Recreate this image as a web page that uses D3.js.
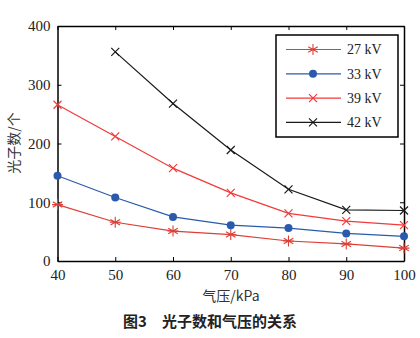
<!DOCTYPE html>
<html><head><meta charset="utf-8">
<script src="https://cdn.jsdelivr.net/npm/d3@7"></script>
<style>body{margin:0;background:#fff}svg{display:block}</style>
</head><body>
<svg id="c" width="420" height="338"></svg>
<script>
const pressures = [40, 50, 60, 70, 80, 90, 100];
const kv27 = [96, 66, 51, 45, 34, 29, 22];
const kv33 = [145, 108, 75, 61, 56, 47, 42];
const kv39 = [266, 212, 158, 116, 81, 68, 61];
const kv42 = [null, 356, 268, 189, 122, 87, 86];
const seriesNames = ["27 kV", "33 kV", "39 kV", "42 kV"];
const xTicks = [40, 50, 60, 70, 80, 90, 100];
const yTicks = [0, 100, 200, 300, 400];
const xLabel = "气压/kPa";
const yLabel = "光子数/个";
const caption = "图3\u2003光子数和气压的关系";

(function () {
const series = [
  {name: seriesNames[0], values: kv27, color: "#dc3f36", marker: "star"},
  {name: seriesNames[1], values: kv33, color: "#2a5aae", marker: "circle"},
  {name: seriesNames[2], values: kv39, color: "#f23a3a", marker: "x"},
  {name: seriesNames[3], values: kv42, color: "#1a1a1a", marker: "x"}
];

const svg = d3.select("#c");
const L = 57.5, R = 404, T = 26, B = 261;
const x = d3.scaleLinear().domain([40, 100]).range([L, R]);
const y = d3.scaleLinear().domain([0, 400]).range([B, T]);
const serif = "'Liberation Serif','Times New Roman',serif";
const cjk = "'Noto Sans CJK SC',sans-serif";

const ax = svg.append("g").attr("font-family", serif);
const gBottom = ax.append("g").attr("transform", `translate(0,${B})`)
  .call(d3.axisBottom(x).tickValues(xTicks).tickSizeInner(-4).tickSizeOuter(0).tickPadding(8));
const gLeft = ax.append("g").attr("transform", `translate(${L},0)`)
  .call(d3.axisLeft(y).tickValues(yTicks).tickSizeInner(-4).tickSizeOuter(0).tickPadding(7));
const gTop = ax.append("g").attr("transform", `translate(0,${T})`)
  .call(d3.axisTop(x).tickValues(xTicks).tickSizeInner(-4).tickSizeOuter(0).tickFormat(""));
const gRight = ax.append("g").attr("transform", `translate(${R},0)`)
  .call(d3.axisRight(y).tickValues(yTicks).tickSizeInner(-4).tickSizeOuter(0).tickFormat(""));
[gBottom, gLeft, gTop, gRight].forEach(g => {
  g.select(".domain").attr("stroke", "#000").attr("stroke-width", 1.5);
  g.selectAll(".tick line").attr("stroke", "#000").attr("stroke-width", 1);
  g.selectAll(".tick text").attr("font-size", 15).attr("fill", "#222").attr("font-family", serif);
});

const line = d3.line().defined(d => d.v != null).x(d => x(d.p)).y(d => y(d.v));
function drawMarker(g, type, cx, cy, color) {
  if (type === "circle") {
    g.append("circle").attr("cx", cx).attr("cy", cy).attr("r", 4).attr("fill", color);
  } else if (type === "x") {
    const s = 4;
    g.append("path").attr("d", `M${cx-s},${cy-s}L${cx+s},${cy+s}M${cx-s},${cy+s}L${cx+s},${cy-s}`)
      .attr("stroke", color).attr("stroke-width", 1.2).attr("fill", "none");
  } else {
    const s = 5.5;
    let d = "";
    for (let i = 0; i < 3; i++) {
      const a = Math.PI / 2 + i * Math.PI / 3;
      d += `M${cx - s*Math.cos(a)},${cy - s*Math.sin(a)}L${cx + s*Math.cos(a)},${cy + s*Math.sin(a)}`;
    }
    d += `M${cx-s},${cy}L${cx+s},${cy}`;
    g.append("path").attr("d", d).attr("stroke", color).attr("stroke-width", 1.1).attr("fill", "none");
  }
}
series.forEach(s => {
  const data = pressures.map((p, i) => ({p, v: s.values[i]}));
  const g = svg.append("g");
  g.append("path").datum(data).attr("d", line).attr("fill", "none")
    .attr("stroke", s.color).attr("stroke-width", 1.2);
  data.filter(d => d.v != null).forEach(d => drawMarker(g, s.marker, x(d.p), y(d.v), s.color));
});

const lg = svg.append("g");
lg.append("rect").attr("x", 276).attr("y", 35).attr("width", 122).attr("height", 102)
  .attr("fill", "#fff").attr("stroke", "#000").attr("stroke-width", 1.5);
series.forEach((s, i) => {
  const yy = 49.5 + i * 24.3;
  lg.append("line").attr("x1", 286).attr("x2", 341).attr("y1", yy).attr("y2", yy)
    .attr("stroke", s.color).attr("stroke-width", 1.2);
  drawMarker(lg, s.marker, 313, yy, s.color);
  lg.append("text").attr("x", 347).attr("y", yy).attr("dy", "0.35em")
    .attr("font-family", serif).attr("font-size", 14).attr("fill", "#222").text(s.name);
});

svg.append("text").attr("x", 231).attr("y", 296).attr("dy", "0.35em").attr("text-anchor", "middle")
  .attr("font-family", cjk).attr("font-size", 14).attr("fill", "#333").text(xLabel);
svg.append("text").attr("transform", `translate(14,143) rotate(-90)`).attr("dy", "0.35em")
  .attr("text-anchor", "middle").attr("font-family", cjk).attr("font-size", 14).attr("fill", "#333").text(yLabel);
svg.append("text").attr("x", 210).attr("y", 322).attr("dy", "0.35em").attr("text-anchor", "middle")
  .attr("font-family", cjk).attr("font-size", 15).attr("font-weight", "bold").attr("fill", "#222").text(caption);
})();
</script>
</body></html>
